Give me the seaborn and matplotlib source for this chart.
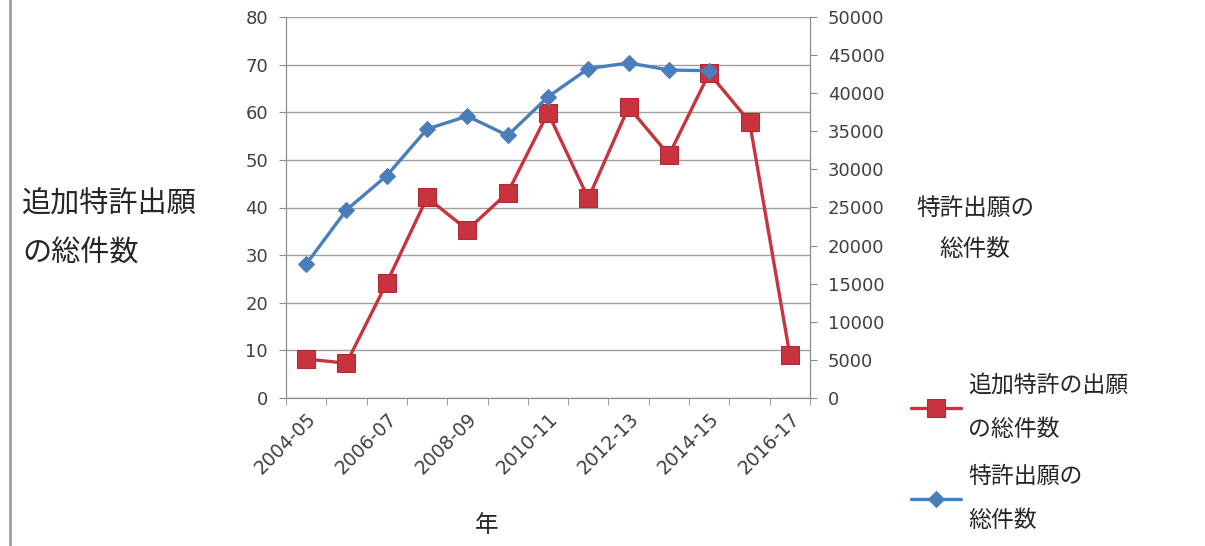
import numpy as np
import matplotlib.pyplot as plt
import seaborn as sns
from matplotlib.ticker import MultipleLocator, FixedLocator


years = ["2004-05", "2005-06", "2006-07", "2007-08", "2008-09", "2009-10", "2010-11",
         "2011-12", "2012-13", "2013-14", "2014-15", "2015-16", "2016-17"]
extra_patents = [8.2, 7.3, 24.2, 42.1, 35.3, 43.1, 59.9, 41.9, 61.1, 51.0, 68.2, 58.0, 9.0]
patents = [17560, 24680, 29180, 35300, 36990, 34450, 39520, 43230, 43970, 43050, 42950]

red = '#C8333D'
blue = '#4A7EBB'
grey = '#8C8C8C'
jp = ['Noto Sans CJK JP', 'DejaVu Sans']

sns.set_style("white")
plt.rcParams['font.family'] = ['DejaVu Sans', 'Noto Sans CJK JP']

fig = plt.figure(figsize=(12.05, 5.46), dpi=100)
ax1 = fig.add_axes([286 / 1205, 1 - 398 / 546, 524 / 1205, 381 / 546])
ax2 = ax1.twinx()

x_red = np.arange(len(extra_patents))
x_blue = np.arange(len(patents))

sns.lineplot(x=x_red, y=extra_patents, ax=ax1, color=red, lw=2.4, marker='s',
             markersize=13, markeredgecolor='#B02A33', label="追加特許の出願\nの総件数", legend=False)
sns.lineplot(x=x_blue, y=patents, ax=ax2, color=blue, lw=2.4, marker='D',
             markersize=8.5, markeredgecolor=blue, label="特許出願の\n総件数", legend=False)

ax1.set_xlim(-0.5, len(years) - 0.5)
ax1.set_ylim(0, 80)
ax2.set_ylim(0, 50000)
ax1.yaxis.set_major_locator(MultipleLocator(10))
ax2.yaxis.set_major_locator(MultipleLocator(5000))

ax1.xaxis.set_major_locator(FixedLocator(x_red[::2]))
ax1.set_xticklabels(years[::2], rotation=45, ha='right', rotation_mode='anchor')
ax1.xaxis.set_minor_locator(FixedLocator(np.arange(-0.5, len(years), 1)))
ax1.tick_params(axis='x', which='major', length=0, pad=8, labelsize=13.5, labelcolor='#404040')
ax1.tick_params(axis='x', which='minor', length=5, color=grey, direction='out', bottom=True)
ax1.tick_params(axis='y', length=5, color=grey, direction='out', left=True, labelsize=13,
                labelcolor='#404040', pad=8)
ax2.tick_params(axis='y', length=5, color=grey, direction='out', right=True, labelsize=13,
                labelcolor='#404040', pad=8)

ax1.grid(axis='y', color='#A0A0A0', lw=1.0)
ax1.set_axisbelow(True)
for ax in (ax1, ax2):
    ax.spines['top'].set_visible(False)
    for s in ('left', 'bottom', 'right'):
        ax.spines[s].set_color(grey)
ax1.set_xlabel("")
ax1.set_ylabel("")
ax2.set_ylabel("")

fig.text(22 / 1205, 1 - 229 / 546, "追加特許出願\nの総件数", fontsize=21, family=jp,
         ha='left', va='center', linespacing=1.8)
fig.text(975 / 1205, 1 - 229 / 546, "特許出願の\n総件数", fontsize=17, family=jp,
         ha='center', va='center', linespacing=2.0, multialignment='center')
fig.text(487 / 1205, 1 - 525 / 546, "年", fontsize=17, family=jp, ha='center', va='center')

h1, l1 = ax1.get_legend_handles_labels()
h2, l2 = ax2.get_legend_handles_labels()
leg = fig.legend(h1 + h2, l1 + l2, loc='upper left', bbox_to_anchor=(895 / 1205, 1 - 358 / 546),
                 frameon=False, prop={'family': jp, 'size': 16.5}, handlelength=2.2,
                 handletextpad=0.3, labelspacing=1.05, borderpad=0.2)
for t in leg.get_texts():
    t.set_linespacing(2.15)

fig.add_artist(plt.Line2D([10 / 1205, 10 / 1205], [0, 1], color='#A0A0A0', lw=2))

plt.savefig("out.png", dpi=100)
plt.close()
